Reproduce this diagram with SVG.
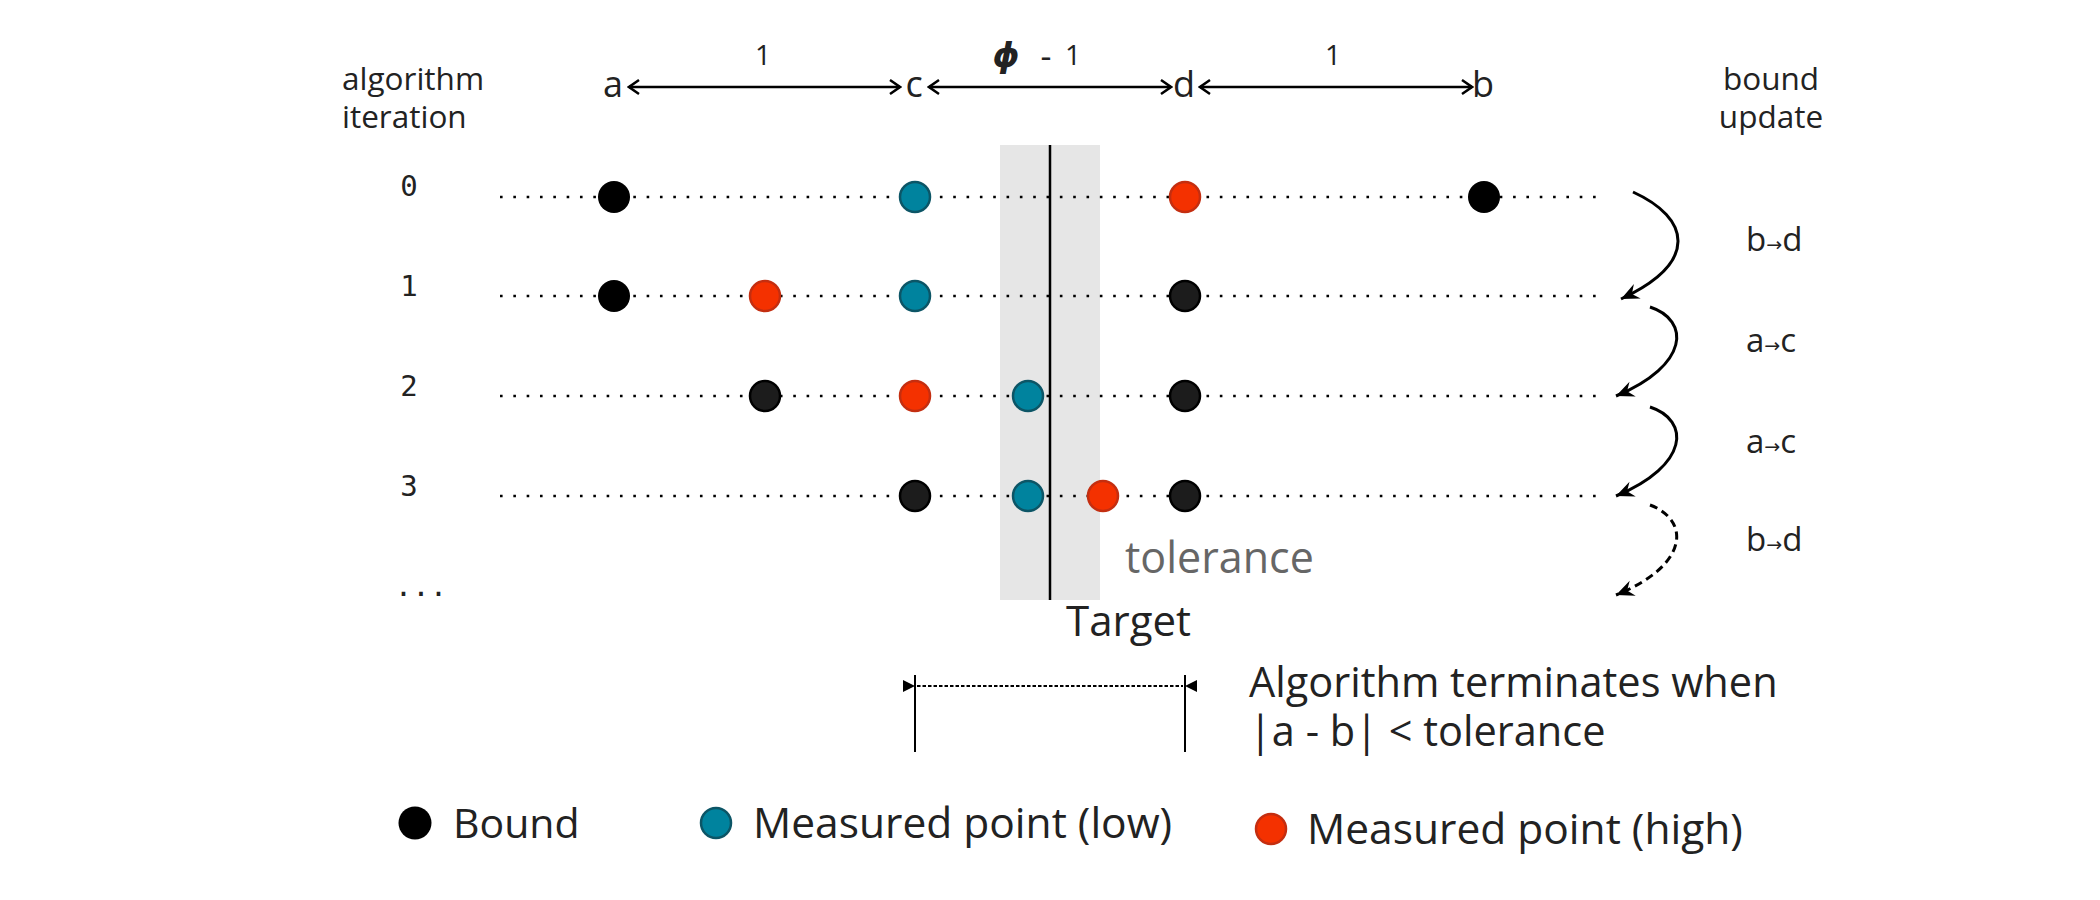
<svg xmlns="http://www.w3.org/2000/svg" width="2100" height="900" viewBox="0 0 2100 900">
<style>
  .t { font-family: "Open Sans", "Liberation Sans", sans-serif; fill: #222; }
  .mono { font-family: "DejaVu Sans Mono", "Liberation Mono", monospace; fill: #222; font-size: 29px; text-anchor: middle; }
  .row { stroke: #000; stroke-width: 2.6; stroke-dasharray: 2.6 10.73; fill: none; }
  .bd { fill: #000; }
  .bd2 { fill: #1c1c1c; stroke: #000; stroke-width: 2.5; }
  .lo { fill: #00839e; stroke: #0c5566; stroke-width: 2.5; }
  .hi { fill: #f43100; stroke: #c42e10; stroke-width: 2.5; }
  .arr { fill: none; stroke: #000; stroke-width: 2.5; }
  .curve { fill: none; stroke: #000; stroke-width: 3; }
  .upd { font-size: 33px; }
  .sm { font-family: "DejaVu Sans", sans-serif; font-size: 19px; }
</style>
<defs>
  <marker id="chev" viewBox="-13 -9 15 18" refX="0" refY="0" markerWidth="15" markerHeight="18" markerUnits="userSpaceOnUse" orient="auto-start-reverse">
    <path d="M-10,-7 L0,0 L-10,7" fill="none" stroke="#000" stroke-width="2.5"/>
  </marker>
  <marker id="stealth" viewBox="-19 -10 21 20" refX="0" refY="0" markerWidth="21" markerHeight="20" markerUnits="userSpaceOnUse" orient="auto">
    <path d="M0,0 L-18,-8 L-12,0 L-18,8 Z" fill="#000"/>
  </marker>
</defs>
<rect width="2100" height="900" fill="#fff"/>

<!-- tolerance band -->
<g id="tolerance-band">
  <rect x="1000" y="145" width="100" height="455" fill="#e6e6e6"/>
</g>

<!-- headers -->
<g id="header-iteration">
  <text class="t" font-size="31.5"><tspan x="342" y="90">algorithm</tspan><tspan x="342" y="128">iteration</tspan></text>
</g>
<g id="header-bound-update">
  <text class="t" font-size="31.5" text-anchor="middle"><tspan x="1771" y="90">bound</tspan><tspan x="1771" y="128">update</tspan></text>
</g>

<!-- top scale labels -->
<g id="label-a"><text class="t" x="613" y="97" font-size="36" text-anchor="middle">a</text></g>
<g id="label-c"><text class="t" x="914" y="97" font-size="36" text-anchor="middle">c</text></g>
<g id="label-d"><text class="t" x="1184" y="97" font-size="36" text-anchor="middle">d</text></g>
<g id="label-b"><text class="t" x="1483" y="97" font-size="36" text-anchor="middle">b</text></g>
<g id="len-ac"><text class="t" x="763" y="65" font-size="28" text-anchor="middle">1</text></g>
<g id="len-cd">
  <text x="1006" y="67" font-family="DejaVu Sans, sans-serif" font-style="italic" font-weight="bold" font-size="34" text-anchor="middle" fill="#222">ϕ</text>
  <text class="t" x="1046" y="68" font-size="34" text-anchor="middle">-</text>
  <text class="t" x="1073" y="65" font-size="28" text-anchor="middle">1</text>
</g>
<g id="len-db"><text class="t" x="1333" y="65" font-size="28" text-anchor="middle">1</text></g>

<!-- row labels -->
<g id="iter-0"><text class="mono" x="409" y="196">0</text></g>
<g id="iter-1"><text class="mono" x="409" y="296">1</text></g>
<g id="iter-2"><text class="mono" x="409" y="396">2</text></g>
<g id="iter-3"><text class="mono" x="409" y="496">3</text></g>
<g id="iter-more"><text class="mono" x="421" y="596">...</text></g>

<!-- dotted rows -->
<g id="rows">
  <line class="row" x1="500" y1="197" x2="1600" y2="197"/>
  <line class="row" x1="500" y1="296" x2="1600" y2="296"/>
  <line class="row" x1="500" y1="396" x2="1600" y2="396"/>
  <line class="row" x1="500" y1="496" x2="1600" y2="496"/>
</g>

<g id="target">
  <line x1="1050" y1="145" x2="1050" y2="600" stroke="#000" stroke-width="2.5"/>
  <text class="t" x="1066" y="636" font-size="42">Target</text>
</g>
<g id="tolerance-label">
  <text class="t" x="1125" y="573" font-size="43" style="fill:#666">tolerance</text>
</g>

<!-- points -->
<g id="row0">
  <circle class="bd" cx="614" cy="197" r="16"/>
  <circle class="lo" cx="915" cy="197" r="15"/>
  <circle class="hi" cx="1185" cy="197" r="15"/>
  <circle class="bd" cx="1484" cy="197" r="16"/>
</g>
<g id="row1">
  <circle class="bd" cx="614" cy="296" r="16"/>
  <circle class="hi" cx="765" cy="296" r="15"/>
  <circle class="lo" cx="915" cy="296" r="15"/>
  <circle class="bd2" cx="1185" cy="296" r="15"/>
</g>
<g id="row2">
  <circle class="bd2" cx="765" cy="396" r="15"/>
  <circle class="hi" cx="915" cy="396" r="15"/>
  <circle class="lo" cx="1028" cy="396" r="15"/>
  <circle class="bd2" cx="1185" cy="396" r="15"/>
</g>
<g id="row3">
  <circle class="bd2" cx="915" cy="496" r="15"/>
  <circle class="lo" cx="1028" cy="496" r="15"/>
  <circle class="hi" cx="1103" cy="496" r="15"/>
  <circle class="bd2" cx="1185" cy="496" r="15"/>
</g>

<!-- update labels -->
<g id="update-0"><text class="t upd" x="1746" y="251">b<tspan class="sm">→</tspan>d</text></g>
<g id="update-1"><text class="t upd" x="1746" y="352">a<tspan class="sm">→</tspan>c</text></g>
<g id="update-2"><text class="t upd" x="1746" y="453">a<tspan class="sm">→</tspan>c</text></g>
<g id="update-3"><text class="t upd" x="1746" y="551">b<tspan class="sm">→</tspan>d</text></g>

<!-- termination -->
<g id="termination">
  <line x1="915" y1="675" x2="915" y2="752" stroke="#000" stroke-width="2"/>
  <line x1="1185" y1="675" x2="1185" y2="752" stroke="#000" stroke-width="2"/>
  <line x1="917" y1="686" x2="1183" y2="686" stroke="#000" stroke-width="2.2" stroke-dasharray="3.5 2"/>
  <polygon points="903,680 915,686 903,692" fill="#000"/>
  <polygon points="1197,680 1185,686 1197,692" fill="#000"/>
  <text class="t" font-size="41.5"><tspan x="1249" y="697">Algorithm terminates when</tspan><tspan x="1249" y="746">|a - b| &lt; tolerance</tspan></text>
</g>

<!-- legend -->
<g id="legend-bound">
  <circle class="bd" cx="415" cy="823" r="16.5"/>
  <text class="t" x="453" y="838" font-size="41">Bound</text>
</g>
<g id="legend-low">
  <circle class="lo" cx="716" cy="823" r="15"/>
  <text class="t" x="753" y="838" font-size="42.5">Measured point (low)</text>
</g>
<g id="legend-high">
  <circle class="hi" cx="1271" cy="829" r="15"/>
  <text class="t" x="1307" y="844" font-size="42.5">Measured point (high)</text>
</g>

<!-- connectors -->
<g id="connectors">
  <line class="arr" x1="629" y1="87" x2="900" y2="87" marker-start="url(#chev)" marker-end="url(#chev)"/>
  <line class="arr" x1="929" y1="87" x2="1171" y2="87" marker-start="url(#chev)" marker-end="url(#chev)"/>
  <line class="arr" x1="1200" y1="87" x2="1472" y2="87" marker-start="url(#chev)" marker-end="url(#chev)"/>
  <path class="curve" d="M1633,192 C1690,218 1700,262 1621,299" marker-end="url(#stealth)"/>
  <path class="curve" d="M1650,307 C1690,320 1690,365 1616,396" marker-end="url(#stealth)"/>
  <path class="curve" d="M1650,407 C1690,420 1690,465 1616,496" marker-end="url(#stealth)"/>
  <path class="curve" d="M1650,505 C1690,520 1690,565 1616,595" stroke-dasharray="8 5" marker-end="url(#stealth)"/>
</g>
</svg>
